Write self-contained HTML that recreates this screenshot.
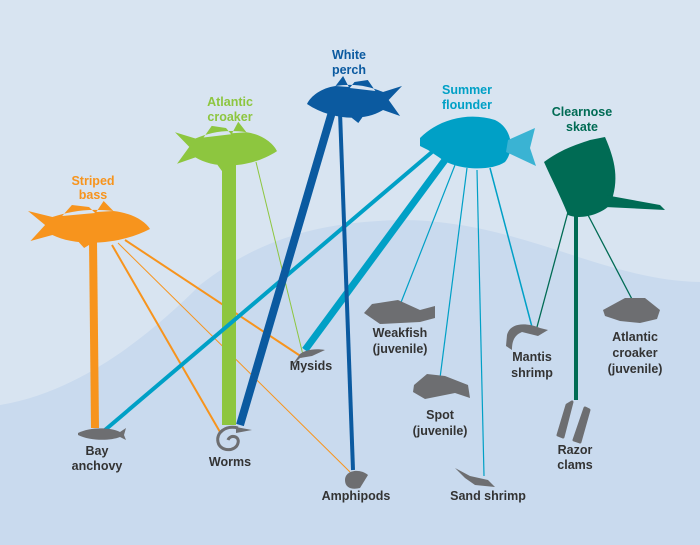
<!DOCTYPE html>
<html><head><meta charset="utf-8"><style>
html,body{margin:0;padding:0;}
svg{display:block;}
text{font-family:"Liberation Sans",sans-serif;font-weight:bold;text-anchor:middle;}
.p{fill:#333;font-size:12.5px;}
.h{font-size:12.5px;}
</style></head><body>
<svg width="700" height="545" viewBox="0 0 700 545" xmlns="http://www.w3.org/2000/svg">
<defs>
<path id="fish" d="M0,4 L14,18 L2,34 L20,28 C40,40 75,38 100,22 C96,14 85,6 70,4 C50,1 35,4 20,10 Z M28,9 L36,-2 L50,0 L55,6 Z M56,5 L62,-6 L70,4 Z M40,33 L46,41 L54,35 Z"/>
</defs>
<rect width="700" height="545" fill="#d8e4f1"/>
<path d="M0,405 C80,392 150,335 200,285 C260,238 320,222 400,220 C520,220 600,280 700,282 L700,545 L0,545Z" fill="#c9daee"/>

<g stroke-linecap="butt">
<line x1="93" y1="240" x2="95" y2="428" stroke="#f7941d" stroke-width="8"/>
<line x1="112" y1="245" x2="220" y2="432" stroke="#f7941d" stroke-width="2"/>
<line x1="125" y1="240" x2="302" y2="357" stroke="#f7941d" stroke-width="2"/>
<line x1="118" y1="243" x2="350" y2="472" stroke="#f7941d" stroke-width="1"/>
<line x1="229" y1="162" x2="229" y2="425" stroke="#8dc63f" stroke-width="14"/>
<line x1="256" y1="162" x2="303" y2="355" stroke="#8dc63f" stroke-width="1"/>
<line x1="432" y1="152" x2="105" y2="430" stroke="#00a0c6" stroke-width="4"/>
<line x1="445" y1="160" x2="305" y2="350" stroke="#00a0c6" stroke-width="7"/>
<line x1="455" y1="165" x2="400" y2="305" stroke="#00a0c6" stroke-width="1.2"/>
<line x1="467" y1="168" x2="440" y2="378" stroke="#00a0c6" stroke-width="1.2"/>
<line x1="477" y1="170" x2="484" y2="476" stroke="#00a0c6" stroke-width="1.2"/>
<line x1="490" y1="168" x2="532" y2="327" stroke="#00a0c6" stroke-width="1.5"/>
<line x1="332" y1="112" x2="240" y2="425" stroke="#0b5aa0" stroke-width="8"/>
<line x1="340" y1="112" x2="353" y2="470" stroke="#0b5aa0" stroke-width="4"/>
<line x1="576" y1="210" x2="576" y2="400" stroke="#006b54" stroke-width="4"/>
<line x1="568" y1="212" x2="537" y2="327" stroke="#006b54" stroke-width="1.3"/>
<line x1="588" y1="215" x2="634" y2="303" stroke="#006b54" stroke-width="1.3"/>
</g>

<use href="#fish" transform="translate(28,207) scale(1.22,1.0)" fill="#f7941d"/>
<use href="#fish" transform="translate(175,128) scale(1.02,1.05)" fill="#8dc63f"/>
<use href="#fish" transform="translate(402,82) scale(-0.95,1.0)" fill="#0b5aa0"/>
<g fill="#00a0c6">
<path d="M420,138 C440,118 470,112 495,120 C512,128 515,150 505,162 C490,172 455,170 440,158 L428,150 L420,146Z"/>
<path d="M508,140 L535,128 L530,148 L536,166 L506,152Z" fill="#3ab3d3"/>
</g>
<g fill="#006b54">
<path d="M544,162 C560,150 575,145 590,140 L605,137 C615,160 620,180 610,205 C600,215 580,220 568,215 C560,195 552,180 544,162Z"/>
<path d="M605,195 L660,205 L665,210 L605,207Z"/>
</g>

<text class="h" fill="#f7941d" x="93" y="185">Striped</text>
<text class="h" fill="#f7941d" x="93" y="199">bass</text>
<text class="h" fill="#8dc63f" x="230" y="106">Atlantic</text>
<text class="h" fill="#8dc63f" x="230" y="121">croaker</text>
<text class="h" fill="#0b5aa0" x="349" y="59">White</text>
<text class="h" fill="#0b5aa0" x="349" y="74">perch</text>
<text class="h" fill="#00a0c6" x="467" y="94">Summer</text>
<text class="h" fill="#00a0c6" x="467" y="109">flounder</text>
<text class="h" fill="#006b54" x="582" y="116">Clearnose</text>
<text class="h" fill="#006b54" x="582" y="131">skate</text>

<g fill="#6d6e71">
<path d="M78,433 C90,427 110,427 120,432 L126,428 L124,435 L126,440 L120,437 C110,441 90,441 78,435Z"/>
<path d="M238,428 C225,425 216,433 218,442 C220,452 236,452 238,443 C240,436 230,434 228,440" fill="none" stroke="#6d6e71" stroke-width="3"/>
<path d="M236,427 L252,430 L236,433Z"/>
<path d="M290,368 L300,354 C305,350 315,348 325,350 L312,356 L300,358Z"/>
<path d="M345,480 C345,470 360,468 368,475 L360,488 C352,490 345,488 345,480Z"/>
<path d="M398,300 L372,304 L364,313 L380,324 L420,322 L435,318 L435,306 L420,310 Z"/>
<path d="M414,385 L427,374 L445,376 L468,385 L470,398 L455,393 L425,399 L413,392Z"/>
<path d="M455,468 L470,476 L488,480 L495,487 L475,485 L465,478Z"/>
<path d="M507,335 C510,323 525,322 540,328 L548,330 L538,336 L522,332 C515,335 512,340 512,350 L506,346Z"/>
<path d="M603,310 L625,298 L645,298 L660,310 L657,319 L640,323 L620,321 L605,316Z"/>
<path d="M567,405 L572,402 L563,437 L558,435Z M585,408 L589,410 L580,442 L574,440Z" stroke="#6d6e71" stroke-width="3" stroke-linejoin="round"/>
</g>

<g class="p">
<text class="p" x="97" y="455">Bay</text>
<text class="p" x="97" y="470">anchovy</text>
<text class="p" x="230" y="466">Worms</text>
<text class="p" x="311" y="370">Mysids</text>
<text class="p" x="356" y="500">Amphipods</text>
<text class="p" x="400" y="337">Weakfish</text>
<text class="p" x="400" y="353">(juvenile)</text>
<text class="p" x="440" y="419">Spot</text>
<text class="p" x="440" y="435">(juvenile)</text>
<text class="p" x="488" y="500">Sand shrimp</text>
<text class="p" x="532" y="361">Mantis</text>
<text class="p" x="532" y="377">shrimp</text>
<text class="p" x="635" y="341">Atlantic</text>
<text class="p" x="635" y="357">croaker</text>
<text class="p" x="635" y="373">(juvenile)</text>
<text class="p" x="575" y="454">Razor</text>
<text class="p" x="575" y="469">clams</text>
</g>
</svg>
</body></html>
